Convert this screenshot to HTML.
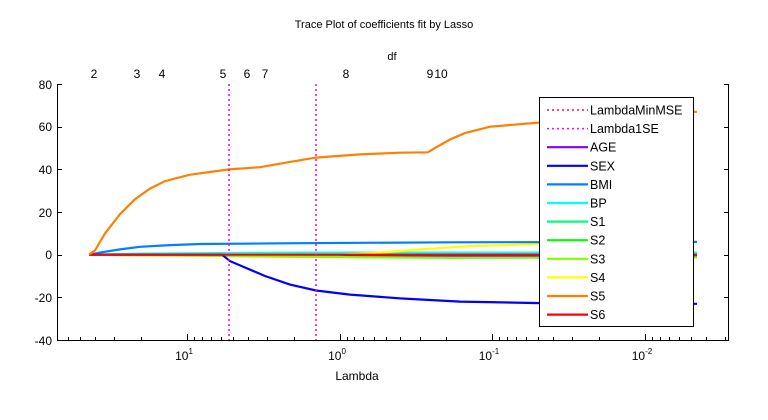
<!DOCTYPE html>
<html><head><meta charset="utf-8"><style>
html,body{margin:0;padding:0;background:#fff;}
svg{display:block;font-family:"Liberation Sans",sans-serif;}
</style></head><body>
<svg id="s" width="768" height="420" viewBox="0 0 768 420" xmlns="http://www.w3.org/2000/svg">
<rect width="768" height="420" fill="#fff"/>
<text x="384" y="28" font-size="11" text-anchor="middle">Trace Plot of coefficients fit by Lasso</text>
<text x="392" y="60" font-size="11" text-anchor="middle">df</text>
<g font-size="12" text-anchor="middle">
<text x="94" y="78">2</text><text x="137" y="78">3</text><text x="162" y="78">4</text>
<text x="223" y="78">5</text><text x="247" y="78">6</text><text x="265" y="78">7</text>
<text x="346" y="78">8</text><text x="430" y="78">9</text><text x="441" y="78">10</text>
</g>
<g id="ax" stroke="#000" stroke-width="1" fill="none"></g>
<g id="curves" fill="none" stroke-width="2.2"></g>
<line x1="229" y1="84" x2="229" y2="340" stroke="#ff00cc" stroke-width="1.5" stroke-dasharray="2,3"/>
<line x1="316" y1="84" x2="316" y2="340" stroke="#ff00cc" stroke-width="1.5" stroke-dasharray="2,3"/>
<g font-size="12" text-anchor="end">
<text x="52" y="89">80</text><text x="52" y="131">60</text><text x="52" y="174">40</text>
<text x="52" y="217">20</text><text x="52" y="259">0</text><text x="52" y="302">-20</text><text x="52" y="345">-40</text>
</g>
<g font-size="12" text-anchor="middle">
<text x="184" y="360">10<tspan font-size="8" dy="-6">1</tspan></text>
<text x="337" y="360">10<tspan font-size="8" dy="-6">0</tspan></text>
<text x="489" y="360">10<tspan font-size="8" dy="-6">-1</tspan></text>
<text x="642" y="360">10<tspan font-size="8" dy="-6">-2</tspan></text>
</g>
<text x="357" y="380" font-size="12" text-anchor="middle">Lambda</text>
<g id="leg"></g>
</svg>
<script>
var NS="http://www.w3.org/2000/svg";
function el(p,t,a,txt){var e=document.createElementNS(NS,t);for(var k in a)e.setAttribute(k,a[k]);if(txt)e.textContent=txt;p.appendChild(e);return e;}
var ax=document.getElementById('ax');
el(ax,'path',{d:'M57.5 84 V340.5 H728.5 V84'});
var yv=[84,126.7,169.3,212,254.7,297.3,340];
yv.forEach(function(y){el(ax,'line',{x1:57,y1:Math.round(y)+.5,x2:62,y2:Math.round(y)+.5});el(ax,'line',{x1:724,y1:Math.round(y)+.5,x2:728,y2:Math.round(y)+.5});});
function X(lg){return 187+(1-lg)*152.7;}
for(var d=-3;d<=1;d++){for(var m=1;m<=9;m++){var lg=d+Math.log10(m);var x=X(lg);if(x<58||x>728)continue;var h=m==1?6:3;x=Math.round(x)+.5;el(ax,'line',{x1:x,y1:340,x2:x,y2:340-h});}}
function Y(v){return 254.7-v*2.133;}
function path(pts,c){var d=pts.map(function(p,i){return (i?'L':'M')+p[0]+' '+Y(p[1]).toFixed(1);}).join(' ');el(document.getElementById('curves'),'path',{d:d,stroke:c});}
path([[89,0],[200,0],[400,-0.5],[697,-0.5]],'#8000ff');
path([[89,0],[600,0.5],[697,0.5]],'#00ff80');
path([[89,0],[130,-0.3],[200,-0.5],[300,-1],[450,-1.5],[697,-1.3]],'#80ff00');
path([[89,0],[250,0.3],[697,0.5]],'#00ff00');
path([[89,0],[140,0.5],[300,1],[697,1]],'#00ffff');
path([[89,0],[340,0],[380,1],[420,2.5],[470,4],[540,5],[697,6]],'#ffff00');
path([[89,0],[100,1],[120,2.5],[140,3.7],[170,4.5],[200,5],[300,5.4],[450,5.8],[697,6]],'#0080ff');
path([[89,0],[222,0],[230,-3],[245,-6],[265,-10],[290,-14],[316,-16.8],[350,-18.7],[400,-20.5],[460,-22],[540,-22.7],[697,-23]],'#0000ff');
path([[89,0],[697,0]],'#ff0000');
path([[89,0],[95,2],[105,10],[120,19],[135,26],[150,31],[165,34.5],[190,37.5],[229,40],[260,41],[290,43.5],[316,45.5],[360,47],[400,47.8],[428,48],[435,50],[450,54],[465,57],[490,60],[540,62],[580,64],[620,66],[697,67]],'#ff8000');
var lg=document.getElementById('leg');
el(lg,'rect',{x:539.5,y:97.5,width:154,height:229,fill:'#fff',stroke:'#000'});
var items=[['LambdaMinMSE','#ff0066',1],['Lambda1SE','#ff00ff',1],['AGE','#8000ff'],['SEX','#0000ff'],['BMI','#0080ff'],['BP','#00ffff'],['S1','#00ff80'],['S2','#00ff00'],['S3','#80ff00'],['S4','#ffff00'],['S5','#ff8000'],['S6','#ff0000']];
items.forEach(function(it,i){var y=110+i*18.6;el(lg,'line',{x1:547,y1:y,x2:588,y2:y,stroke:it[1],'stroke-width':it[2]?1.5:2.2,'stroke-dasharray':it[2]?'2,3':'none'});el(lg,'text',{x:590,y:y+4.5,'font-size':'12.5'},it[0]);});
</script>
</body></html>
